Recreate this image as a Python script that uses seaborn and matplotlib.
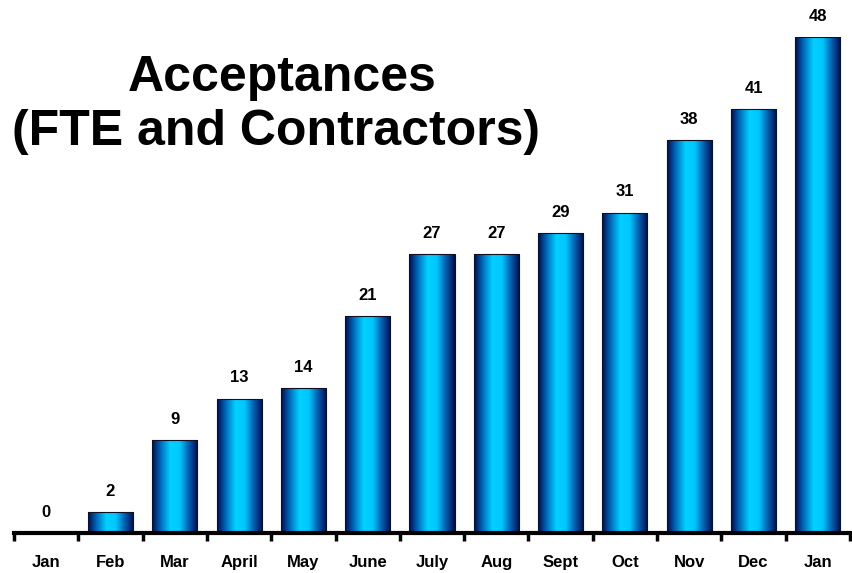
import numpy as np
import pandas as pd
import matplotlib
matplotlib.use('Agg')
import matplotlib.pyplot as plt
from matplotlib.colors import LinearSegmentedColormap
import seaborn as sns

# dados
meses = ['Jan', 'Feb', 'Mar', 'April', 'May', 'June', 'July', 'Aug', 'Sept', 'Oct', 'Nov', 'Dec', 'Jan']
aceitacoes = [0, 2, 9, 13, 14, 21, 27, 27, 29, 31, 38, 41, 48]

sns.set_style('white')
plt.rcParams['font.family'] = ['Liberation Sans', 'DejaVu Sans']
plt.rcParams['text.color'] = 'black'
plt.rcParams['xtick.color'] = 'black'
plt.rcParams['xtick.labelcolor'] = 'black'

dados = pd.DataFrame({'mes': range(len(meses)), 'valor': aceitacoes})

fig = plt.figure(figsize=(8.52, 5.73), dpi=100)
ax = fig.add_axes([14 / 852, 40 / 573, 836 / 852, 496 / 573])

sns.barplot(data=dados, x='mes', y='valor', width=0.7, color='#00BFFF',
            edgecolor='#101020', linewidth=0.8, ax=ax)

# gradiente horizontal nas barras
cmap = LinearSegmentedColormap.from_list('azul', ['#000A50', '#0070C0', '#00D0FF', '#00C8FF', '#0060B0', '#000A50'])
grad = np.linspace(0, 1, 256).reshape(1, -1)
for barra in ax.patches:
    x0, y0 = barra.get_x(), barra.get_y()
    w, h = barra.get_width(), barra.get_height()
    if h <= 0:
        continue
    img = ax.imshow(grad, cmap=cmap, aspect='auto', extent=[x0, x0 + w, y0, y0 + h], zorder=barra.get_zorder())
    img.set_clip_path(barra)
    barra.set_facecolor('none')
    barra.set_zorder(barra.get_zorder() + 1)

for i, v in enumerate(aceitacoes):
    ax.text(i, v + 1.3, str(v), ha='center', va='bottom', fontsize=12, fontweight='bold', clip_on=False)

ax.set_xlim(-0.5, len(meses) - 0.5)
ax.set_ylim(0, 48)
ax.set_xticks(np.arange(-0.5, len(meses), 1))
ax.set_xticklabels([])
ax.set_xticks(range(len(meses)), minor=True)
ax.set_xticklabels(meses, minor=True, fontsize=12, fontweight='bold')
ax.tick_params(axis='x', which='major', bottom=True, length=6, width=2.5, direction='out', color='black')
ax.tick_params(axis='x', which='minor', bottom=True, length=0, pad=16)
ax.set_yticks([])
ax.set_xlabel('')
ax.set_ylabel('')
for lado in ['top', 'right', 'left']:
    ax.spines[lado].set_visible(False)
ax.spines['bottom'].set_linewidth(3)
ax.spines['bottom'].set_color('black')

fig.text(282 / 852, 1 - 78 / 573, 'Acceptances', ha='center', va='center', fontsize=36, fontweight='bold')
fig.text(276 / 852, 1 - 132 / 573, '(FTE and Contractors)', ha='center', va='center', fontsize=36, fontweight='bold')

fig.savefig('out.png', dpi=100)
